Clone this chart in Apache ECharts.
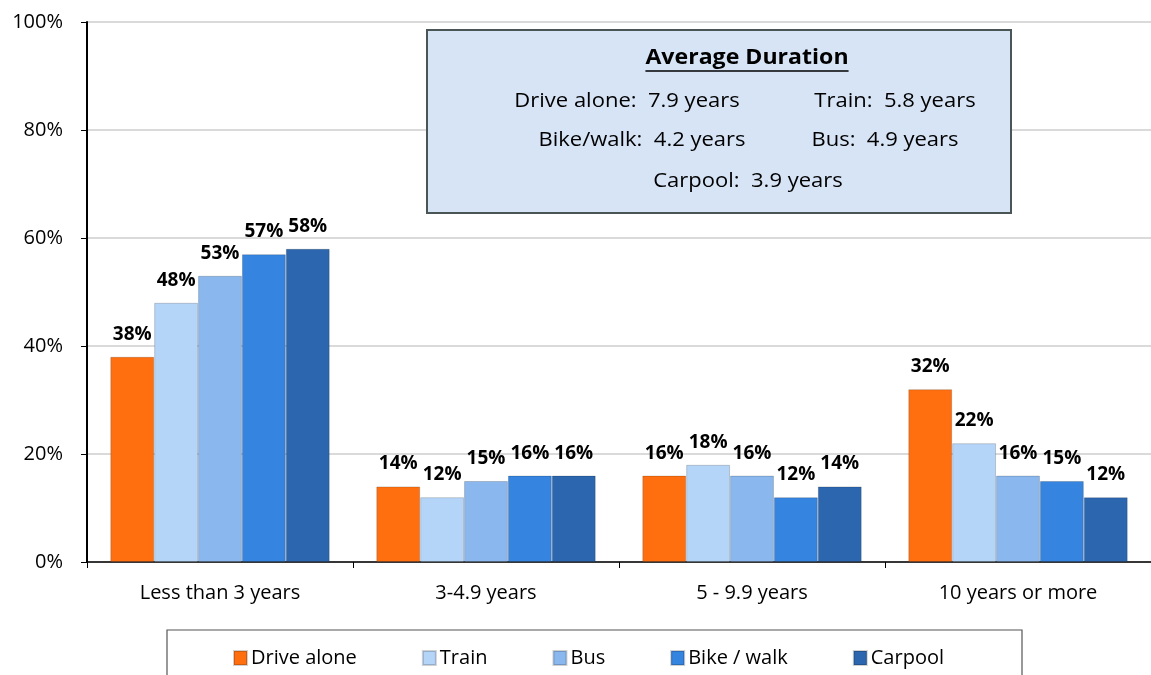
<!DOCTYPE html>
<html><head><meta charset="utf-8">
<script src="https://cdn.jsdelivr.net/npm/echarts@6/dist/echarts.min.js"></script>
<style>html,body{margin:0;padding:0;background:#fff}#c{width:1151px;height:675px}</style>
</head><body><div id="c"></div>
<script>
const categories = ['Less than 3 years', '3-4.9 years', '5 - 9.9 years', '10 years or more'];
const seriesNames = ['Drive alone', 'Train', 'Bus', 'Bike / walk', 'Carpool'];
const driveAlone = [38, 14, 16, 32];
const train = [48, 12, 18, 22];
const bus = [53, 15, 16, 16];
const bikeWalk = [57, 16, 12, 15];
const carpool = [58, 16, 14, 12];
const yTicks = [0, 20, 40, 60, 80, 100];
const boxTitle = 'Average Duration';
const boxLines = [
  ['Drive alone:  7.9 years', 'Train:  5.8 years'],
  ['Bike/walk:  4.2 years', 'Bus:  4.9 years'],
  ['Carpool:  3.9 years']
];

const colors = ['#FF6F0F', '#B4D4F8', '#8AB8EE', '#3484E0', '#2B66AE'];
const values = [driveAlone, train, bus, bikeWalk, carpool];
const FONT = '"Open Sans", sans-serif';

const chart = echarts.init(document.getElementById('c'), null, {renderer: 'canvas'});

const series = seriesNames.map((n, i) => ({
  name: n,
  type: 'bar',
  data: values[i],
  barGap: '0%',
  barCategoryGap: '17.5%',
  itemStyle: {color: colors[i], borderColor: 'rgba(0,0,0,0.18)', borderWidth: 1},
  label: {
    show: true, position: 'top', distance: 13,
    formatter: p => p.value + '%',
    color: '#000', fontWeight: 'bold', fontSize: 19, fontFamily: FONT
  },
  emphasis: {disabled: true}
}));

const cv = document.createElement('canvas').getContext('2d');
cv.font = 'bold 21px ' + FONT;
const tw = cv.measureText(boxTitle).width * 1.1;

const bx = 427, by = 30, bw = 584, bh = 183;
const txt = (s, x, y, bold) => ({type: 'text', x: x, y: y, z: 101, scaleX: 1.1,
  style: {text: s, font: (bold ? 'bold ' : '') + '20px ' + FONT, fill: '#000', textAlign: 'center', textVerticalAlign: 'middle'}});
const graphics = [
  {type: 'rect', shape: {x: bx, y: by, width: bw, height: bh},
   style: {fill: '#D6E4F6', stroke: '#4A5656', lineWidth: 2}, z: 100},
  {type: 'text', x: 747, y: 58, z: 101, scaleX: 1.1,
   style: {text: boxTitle, font: 'bold 21px ' + FONT, fill: '#000', textAlign: 'center', textVerticalAlign: 'middle'}},
  {type: 'line', z: 101, shape: {x1: 747 - tw / 2, y1: 71, x2: 747 + tw / 2, y2: 71}, style: {stroke: '#000', lineWidth: 1.5}},
  txt(boxLines[0][0], 627, 101),
  txt(boxLines[0][1], 895, 101),
  txt(boxLines[1][0], 642, 140),
  txt(boxLines[1][1], 885, 140),
  txt(boxLines[2][0], 748, 181),
  {type: 'rect', shape: {x: 167, y: 630, width: 855, height: 60},
   style: {fill: 'none', stroke: '#555', lineWidth: 1.2}, z: 1}
];

chart.setOption({
  animation: false,
  textStyle: {fontFamily: FONT},
  grid: {left: 87, top: 22, bottom: 113, width: 1078, containLabel: false},
  xAxis: {
    type: 'category', data: categories,
    axisLine: {lineStyle: {color: '#000', width: 1.5}},
    axisTick: {show: true, length: 6, lineStyle: {color: '#000'}},
    axisLabel: {color: '#000', fontSize: 20, fontFamily: FONT, margin: 21}
  },
  yAxis: {
    type: 'value', min: yTicks[0], max: yTicks[yTicks.length - 1], interval: yTicks[1] - yTicks[0],
    axisLine: {show: true, lineStyle: {color: '#000', width: 2}},
    axisTick: {show: true, length: 6, lineStyle: {color: '#000'}},
    axisLabel: {formatter: '{value}%', color: '#000', fontSize: 20, fontFamily: FONT, margin: 24},
    splitLine: {show: true, lineStyle: {color: '#dadada', width: 2}}
  },
  legend: {
    data: seriesNames, left: 233, top: 648, itemGap: 65, padding: 0,
    itemWidth: 13, itemHeight: 14,
    icon: 'rect',
    textStyle: {color: '#000', fontSize: 20, fontFamily: FONT, padding: [0, 0, 0, -1]}
  },
  series: series,
  graphic: graphics
});
</script></body></html>
